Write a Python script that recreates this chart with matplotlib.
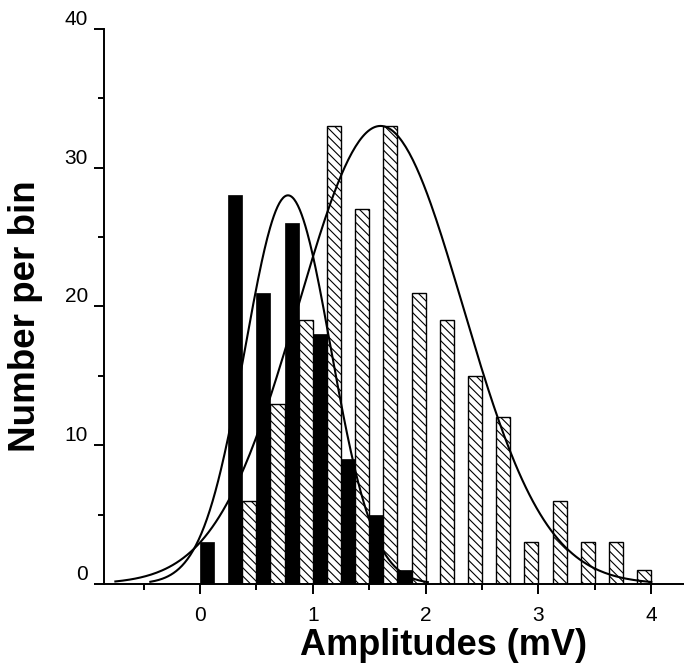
import numpy as np
import matplotlib
matplotlib.use('Agg')
import matplotlib.pyplot as plt

# bin width 0.25 mV, each bin holds a black bar (left half) and a hatched bar (right half)
black_left = [0.0, 0.25, 0.5, 0.75, 1.0, 1.25, 1.5, 1.75]
black_counts = [3, 28, 21, 26, 18, 9, 5, 1]

hatch_left = [0.375, 0.625, 0.875, 1.125, 1.375, 1.625, 1.875, 2.125,
              2.375, 2.625, 2.875, 3.125, 3.375, 3.625, 3.875]
hatch_counts = [6, 13, 19, 33, 27, 33, 21, 19, 15, 12, 3, 6, 3, 3, 1]

# gaussian fits: amplitude, centre, sigma, x range
black_fit = (28.0, 0.78, 0.38, -0.44, 2.02)
hatch_fit = (33.0, 1.60, 0.73, -0.75, 4.0)

bar_w = 0.125

plt.rcParams['font.family'] = ['Liberation Sans', 'DejaVu Sans']
plt.rcParams['hatch.linewidth'] = 0.8

fig = plt.figure(figsize=(6.84, 6.69), dpi=100)
ax = fig.add_axes([0.152, 0.127, 0.848, 0.830])

ax.bar(hatch_left, hatch_counts, width=bar_w, align='edge', facecolor='white',
       edgecolor='black', linewidth=1.0, hatch='\\\\\\\\', zorder=2)
ax.bar(black_left, black_counts, width=bar_w, align='edge', color='black',
       edgecolor='black', linewidth=0.5, zorder=2)


def gauss_curve(fit):
    a, xc, s, x0, x1 = fit
    xs = np.linspace(x0, x1, 300)
    return xs, a * np.exp(-(xs - xc) ** 2 / (2 * s ** 2))


for fit in (hatch_fit, black_fit):
    xs, ys = gauss_curve(fit)
    ax.plot(xs, ys, color='black', lw=1.5, zorder=3)

ax.set_xlim(-0.851, 4.29)
ax.set_ylim(0, 40)

ax.spines['top'].set_visible(False)
ax.spines['right'].set_visible(False)
for sp in ('left', 'bottom'):
    ax.spines[sp].set_linewidth(1.4)

ax.set_xticks([0, 1, 2, 3, 4])
ax.set_xticks([-0.5, 0.5, 1.5, 2.5, 3.5], minor=True)
ax.set_yticks([0, 10, 20, 30, 40])
ax.set_yticks([5, 15, 25, 35], minor=True)
ax.tick_params(which='major', direction='out', length=7.5, width=1.4)
ax.tick_params(which='minor', direction='out', length=4, width=1.4)
ax.tick_params(axis='x', labelsize=15, pad=8)
ax.tick_params(axis='y', labelsize=15, pad=4)
for lab in ax.get_yticklabels():
    lab.set_verticalalignment('bottom')

ax.set_xlabel('Amplitudes (mV)', fontsize=26, fontweight='bold')
ax.xaxis.set_label_coords(0.586, -0.128)
ax.xaxis.label.set_va('baseline')
ax.set_ylabel('Number per bin', fontsize=26.5, fontweight='bold')
ax.yaxis.set_label_coords(-0.105, 0.483)

fig.savefig('out.png', dpi=100)
